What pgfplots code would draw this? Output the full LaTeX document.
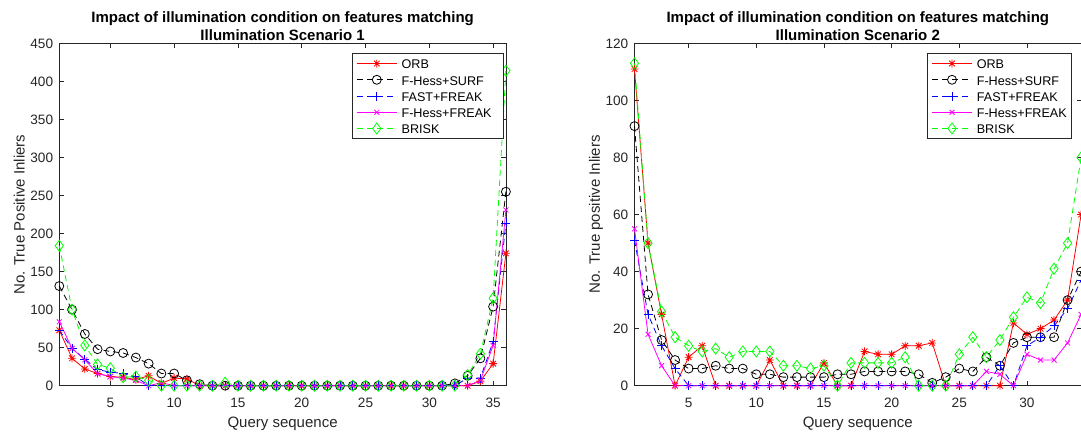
\documentclass[border=0pt]{standalone}
\usepackage{fontspec}
\setmainfont{Liberation Sans}
\usepackage{pgfplots}
\usepackage{pgfplotstable}
\pgfplotsset{compat=1.18}
\definecolor{axgray}{rgb}{0.15,0.15,0.15}
\definecolor{mred}{rgb}{1,0,0}
\definecolor{mgreen}{rgb}{0,1,0}
\definecolor{mblue}{rgb}{0,0,1}
\definecolor{mmag}{rgb}{1,0,1}

\pgfdeclareplotmark{mlstar}{%
  \pgfpathmoveto{\pgfqpoint{0pt}{\pgfplotmarksize}}\pgfpathlineto{\pgfqpoint{0pt}{-\pgfplotmarksize}}%
  \pgfpathmoveto{\pgfqpoint{\pgfplotmarksize}{0pt}}\pgfpathlineto{\pgfqpoint{-\pgfplotmarksize}{0pt}}%
  \pgfpathmoveto{\pgfqpoint{.707\pgfplotmarksize}{.707\pgfplotmarksize}}\pgfpathlineto{\pgfqpoint{-.707\pgfplotmarksize}{-.707\pgfplotmarksize}}%
  \pgfpathmoveto{\pgfqpoint{.707\pgfplotmarksize}{-.707\pgfplotmarksize}}\pgfpathlineto{\pgfqpoint{-.707\pgfplotmarksize}{.707\pgfplotmarksize}}%
  \pgfusepathqstroke}

% Scenario 1: x, ORB, SURF, FAST, HESSFREAK, BRISK
\pgfplotstableread{
x orb surf fast hfreak brisk
1 73 131 73 84 184
2 36 100 49 49 100
3 22 68 35 34 53
4 16 48 21 16 28
5 12 45 18 12 23
6 11 43 16 10 11
7 8 37 12 7 12
8 13 29 0 0 7
9 3 16 0 4 0
10 10 16 0 0 0
11 9 7 0 0 0
12 0 2 0 0 0
13 0 0 0 0 0
14 0 0 0 0 4
15 0 0 0 0 0
16 0 0 0 0 0
17 0 0 0 0 0
18 0 0 0 0 0
19 0 0 0 0 0
20 0 0 0 0 0
21 0 0 0 0 0
22 0 0 0 0 0
23 0 0 0 0 0
24 0 0 0 0 0
25 0 0 0 0 0
26 0 0 0 0 0
27 0 0 0 0 0
28 0 0 0 0 0
29 0 0 0 0 0
30 0 0 0 0 0
31 0 0 0 0 0
32 0 3 0 0 0
33 0 13 10 0 14
34 6 36 10 7 42
35 29 104 58 53 115
36 174 255 214 231 414
}\sceneone

% Scenario 2
\pgfplotstableread{
x orb surf fast hfreak brisk
1 111 91 51 55 113
2 50 32 25 18 50
3 25 16 14 7 26
4 0 9 6 0 17
5 10 6 0 0 14
6 14 6 0 0 12
7 0 7 0 0 13
8 0 6 0 0 10
9 0 6 0 0 12
10 0 4 0 0 12
11 9 4 0 0 12
12 0 3 0 0 7
13 0 3 0 0 7
14 0 3 0 0 6
15 8 3 0 0 7
16 0 4 0 0 0
17 0 4 0 0 8
18 12 5 0 0 8
19 11 5 0 0 8
20 11 5 0 0 8
21 14 5 0 0 10
22 14 4 0 0 0
23 15 1 0 0 0
24 0 3 0 0 0
25 0 6 0 0 11
26 0 5 0 0 17
27 0 10 0 5 10
28 0 7 7 4 16
29 22 15 0 0 24
30 18 17 14 11 31
31 20 17 17 9 29
32 23 17 21 9 41
33 30 30 27 15 50
34 60 40 37 25 80
}\scenetwo

\pgfplotsset{
  mlstyle/.style={
    scale only axis, width=446.6bp, height=342.3bp,
    enlargelimits=false, clip=false,
    axis line style={axgray, line width=0.7bp},
    tick style={axgray, line width=0.7bp},
    tick align=inside, major tick length=4.5bp,
    /pgf/number format/assume math mode=true,
    ticklabel style={font=\fontsize{13.6bp}{16bp}\selectfont, text=axgray},
    xticklabel style={inner sep=0pt, anchor=north, yshift=-12.6bp},
    yticklabel style={inner sep=0pt, anchor=east, xshift=-6bp},
    label style={font=\fontsize{15bp}{18bp}\selectfont, text=axgray},
    xlabel style={at={(axis description cs:0.5,-0.1207)}, anchor=base, inner sep=0pt},
    ylabel style={at={(axis description cs:-0.0775,0.5)}, anchor=base, inner sep=0pt},
    title style={at={(axis description cs:0.5,1)}, anchor=south, yshift=-3bp, inner sep=0pt, align=center, font=\fontsize{15bp}{17.2bp}\selectfont\bfseries},
    legend style={at={(1,1)}, anchor=north east, xshift=-10.3bp, yshift=-10bp,
      draw=axgray, line width=0.6bp, inner xsep=4bp, inner ysep=2bp, outer sep=0pt,
      column sep=4.4bp, font=\fontsize{12.6bp}{15bp}\selectfont,
      nodes={inner sep=0pt, text height=13.5bp, text depth=2.75bp}},
    legend cell align=left,
    legend image code/.code={\draw[mark repeat=2, mark phase=2] plot coordinates {(0bp,0bp) (20bp,0bp) (40bp,0bp)};},
    every axis plot/.append style={line width=0.8bp},
    xlabel={Query sequence},
  },
  sorb/.style={color=mred, solid, mark=mlstar, mark size=4bp, mark options={solid}},
  ssurf/.style={color=black, dash pattern=on 6bp off 4bp, mark=o, mark size=4.5bp, mark options={solid}},
  sfast/.style={color=mblue, dash pattern=on 6bp off 4bp, mark=+, mark size=4.5bp, mark options={solid}},
  shfreak/.style={color=mmag, solid, mark=x, mark size=3.5bp, mark options={solid}},
  sbrisk/.style={color=mgreen, dash pattern=on 6bp off 4bp, mark=diamond, mark size=5.5bp, mark options={solid}},
}

\begin{document}
\begin{tikzpicture}
\path[use as bounding box] (0,0) rectangle (1081bp,434bp);
\begin{axis}[mlstyle, at={(59.3bp,48.3bp)}, anchor=south west,
  xmin=1, xmax=36, ymin=0, ymax=450,
  xtick={5,10,...,35}, ytick={0,50,...,450},
  ylabel={No. True Positive Inliers},
  legend style={xshift=8bp, nodes={text width=98bp}},
  title={Impact of illumination condition on features matching\\Illumination Scenario 1}]
\addplot[sorb] table[x=x,y=orb] {\sceneone};
\addplot[ssurf] table[x=x,y=surf] {\sceneone};
\addplot[sfast] table[x=x,y=fast] {\sceneone};
\addplot[shfreak] table[x=x,y=hfreak] {\sceneone};
\addplot[sbrisk] table[x=x,y=brisk] {\sceneone};
\legend{ORB,F-Hess+SURF,FAST+FREAK,F-Hess+FREAK,BRISK}
\end{axis}
\begin{axis}[mlstyle, at={(634.5bp,48.3bp)}, anchor=south west,
  xmin=1, xmax=34, ymin=0, ymax=120,
  xtick={5,10,...,30}, ytick={0,20,...,120},
  ylabel={No. True positive Inliers},
  title={Impact of illumination condition on features matching\\Illumination Scenario 2}]
\addplot[sorb] table[x=x,y=orb] {\scenetwo};
\addplot[ssurf] table[x=x,y=surf] {\scenetwo};
\addplot[sfast] table[x=x,y=fast] {\scenetwo};
\addplot[shfreak] table[x=x,y=hfreak] {\scenetwo};
\addplot[sbrisk] table[x=x,y=brisk] {\scenetwo};
\legend{ORB,F-Hess+SURF,FAST+FREAK,F-Hess+FREAK,BRISK}
\end{axis}
\end{tikzpicture}
\end{document}
